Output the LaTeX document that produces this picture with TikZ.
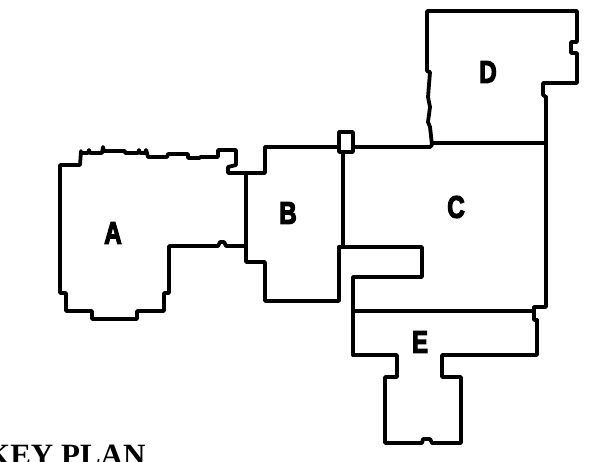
\documentclass[tikz,border=0pt]{standalone}
\usepackage{fontspec}
\setmainfont{Liberation Serif}
\newfontfamily\roomfont[BoldFeatures={FakeBold=4.5}]{Liberation Sans}
\usepackage{tikz}
\usetikzlibrary{calc,positioning}
\tikzstyle{wall}  =[line width=3.8pt, line join=round, line cap=round]
\tikzstyle{room}  =[inner sep=0pt, outer sep=0pt, xscale=0.78,
                    font=\roomfont\bfseries\fontsize{31}{31}\selectfont]
\begin{document}
\begin{tikzpicture}[x=1pt, y=-1pt]
\useasboundingbox (0,0) rectangle (604,461);
% wing A
\draw [wall] (247,173) -- (228,173) -- (228,167) -- (236,165) -- (236,150) -- (218,150)
    -- (218,157) -- (200,157) -- (200,158) -- (188,158) -- (188,154) -- (168,154)
    -- (167,157) -- (148,157) -- (147,153) -- (146,150) -- (145,153) -- (140,153)
    -- (139,150) -- (138,153) -- (125,153) -- (125,151) -- (104,151) -- (103,147)
    -- (102,153) -- (90,153) -- (89,150) -- (88,153) -- (81,153) -- (81,151)
    -- (80,165) -- (60,165) -- (60,293) -- (66,293) -- (66,311) -- (92,311)
    -- (92,319) -- (137,319) -- (137,311) -- (164,311) -- (164,293) -- (169,293)
    -- (169,246) -- (218,246) -- (220,242) -- (224,242) -- (226,246) -- (246,246);
% wing B
\draw [wall] (246,173) -- (246,262) -- (265,262) -- (265,301) -- (339,301) -- (339,247);
\draw [wall] (247,173) -- (265,173) -- (265,147) -- (339,147);
\draw [wall] (339,132) rectangle (353,152);
\draw [wall] (343,152) -- (343,247);
% wing C
\draw [wall] (353,147) -- (430,147) -- (432,145);
\draw [wall] (339,247) -- (422,247) -- (422,277) -- (353,277) -- (353,355);
\draw [wall] (432,143) -- (546,143);
\draw [wall] (546,97) -- (546,307) -- (534,307) -- (534,320) -- (537,320);
% wing D
\draw [wall] (432,145) -- (430,127) -- (428,122) -- (430,107) -- (428,97) -- (430,72)
    -- (427,71) -- (427,11) -- (577,11) -- (577,42) -- (571,42) -- (571,53)
    -- (577,53) -- (577,83) -- (543,83) -- (543,95) -- (546,97);
% wing E
\draw [wall] (353,311) -- (534,311);
\draw [wall] (537,320) -- (537,355) -- (442,355) -- (442,377) -- (461,377) -- (461,443)
    -- (432,443) -- (430,439) -- (423,439) -- (422,443) -- (385,443) -- (385,377)
    -- (397,377) -- (397,355) -- (353,355);
\node (roomA) [room] at (113,233) {A};
\node (roomB) [room] at (288,213) {B};
\node (roomC) [room] at (456,207) {C};
\node (roomD) [room] at (488,72) {D};
\node (roomE) [room] at (420,342) {E};
\node (title) [anchor=base west, inner sep=0pt, font=\bfseries\fontsize{31}{31}\selectfont]
    at (-14,465.5) {KEY PLAN};
\end{tikzpicture}
\end{document}
